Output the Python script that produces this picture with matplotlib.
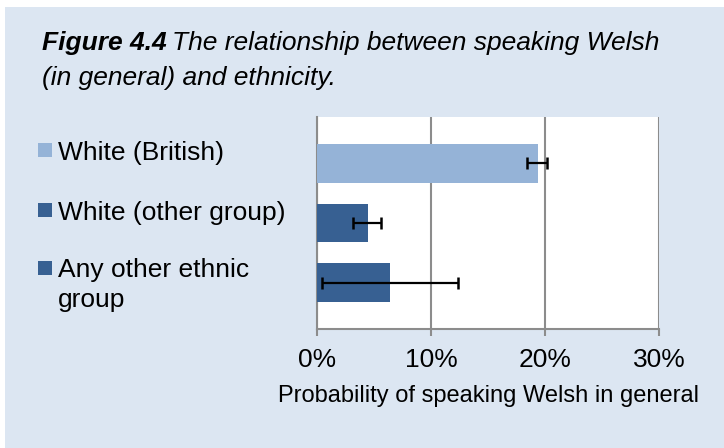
import matplotlib
matplotlib.use("Agg")
import matplotlib.pyplot as plt
from matplotlib.patches import Rectangle
from matplotlib.ticker import PercentFormatter

plt.rcParams['font.family'] = ['Liberation Sans', 'DejaVu Sans']

# data
groups = ['White (British)', 'White (other group)', 'Any other ethnic\ngroup']
prob = [19.4, 4.45, 6.4]          # % probability of speaking Welsh
err_low = [18.4, 3.2, 0.4]        # lower end of error bar
err_high = [20.2, 5.6, 12.4]      # upper end of error bar
colors = ['#95B3D7', '#376092', '#376092']
xticks = [0, 10, 20, 30]

W, H = 724, 448
fig = plt.figure(figsize=(W / 100, H / 100), dpi=100, facecolor='white')

# light blue panel with a thin white margin top/left
fig.patches.append(Rectangle((5 / W, 0), 1, 1 - 7 / H, transform=fig.transFigure,
                             facecolor='#DCE6F2', edgecolor='none', zorder=-10))

# title: bold italic lead then italic text
t1 = fig.text(42 / W, 1 - 50 / H, 'Figure 4.4', fontsize=19, fontweight='bold',
              fontstyle='italic', va='baseline', ha='left')
fig.canvas.draw()
bb = t1.get_window_extent()
fig.text(bb.x1 / W + 5 / W, 1 - 50 / H, 'The relationship between speaking Welsh',
         fontsize=19, fontstyle='italic', va='baseline', ha='left')
fig.text(42 / W, 1 - 85 / H, '(in general) and ethnicity.', fontsize=19,
         fontstyle='italic', va='baseline', ha='left')

ax = fig.add_axes([317 / W, 1 - 329 / H, (659 - 317) / W, (329 - 117) / H])
ax.set_facecolor('white')

ypos = list(range(len(groups)))
lo = [p - l for p, l in zip(prob, err_low)]
hi = [h - p for p, h in zip(prob, err_high)]
ax.barh(ypos, prob, height=0.64, color=colors, zorder=3)
ax.errorbar(prob, ypos, xerr=[lo, hi], fmt='none', ecolor='black',
            elinewidth=1.6, capsize=4.3, capthick=1.8, zorder=4)

ax.set_xlim(0, 30)
ax.set_ylim(2.78, -0.78)
ax.set_xticks(xticks)
ax.xaxis.set_major_formatter(PercentFormatter(decimals=0))
ax.set_yticks([])
ax.grid(axis='x', color='#8C8C8C', linewidth=1.5, zorder=1)
for s in ['top', 'right']:
    ax.spines[s].set_visible(False)
for s in ['left', 'bottom']:
    ax.spines[s].set_color('#8C8C8C')
    ax.spines[s].set_linewidth(1.5)
ax.tick_params(axis='x', length=5, width=1.5, color='#8C8C8C', labelsize=19, pad=9)
ax.set_xlabel('Probability of speaking Welsh in general', fontsize=17, labelpad=9)

# legend drawn on the left, one row per group (wrapped lines 29px apart)
leg_y = [150, 210, 268]
for name, c, y in zip(groups, colors, leg_y):
    fig.patches.append(Rectangle((38 / W, 1 - (y + 7) / H), 14 / W, 14 / H,
                                 transform=fig.transFigure, facecolor=c, edgecolor='none'))
    for k, line in enumerate(name.split('\n')):
        fig.text(58 / W, 1 - (y + 29 * k) / H, line, fontsize=19,
                 va='center_baseline', ha='left')

fig.savefig('out.png', dpi=100, facecolor=fig.get_facecolor())
